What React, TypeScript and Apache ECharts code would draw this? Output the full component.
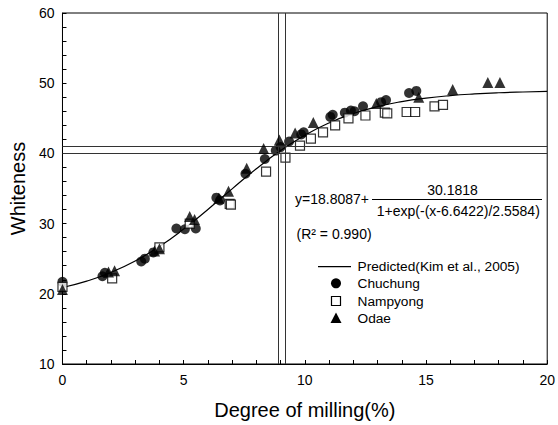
import React, { useEffect, useRef } from "react";
import * as echarts from "echarts";

const FONT = "'Liberation Sans', Arial, sans-serif";

// Predicted curve, x = 0..20
const curveX = [0, 1, 2, 3, 4, 5, 6, 7, 8, 9, 10, 11, 12, 13, 14, 15, 16, 17, 18, 19, 20];
const curveY = [20.9, 21.81, 23.04, 24.67, 26.73, 29.22, 32.02, 34.95, 37.81, 40.4, 42.59, 44.34, 45.68, 46.67, 47.38, 47.88, 48.23, 48.47, 48.64, 48.75, 48.83];

const chuchung: [number, number][] = [
  [0, 21.7], [1.65, 22.5], [1.75, 23.0], [3.25, 24.6], [3.4, 25.0], [3.75, 25.9],
  [4.7, 29.3], [5.05, 29.2], [5.5, 29.3], [6.35, 33.7], [6.5, 33.3], [7.55, 37.1],
  [8.35, 39.2], [8.8, 40.4], [9.0, 40.9], [9.35, 41.7], [9.85, 42.7], [9.95, 43.0],
  [11.05, 45.2], [11.15, 45.5], [11.65, 45.8], [11.9, 46.1], [12.05, 46.0], [12.4, 46.7],
  [13.15, 47.3], [13.35, 47.6], [14.3, 48.6], [14.6, 48.9],
];

const nampyong: [number, number][] = [
  [0, 21.0], [2.05, 22.2], [4.0, 26.6], [5.25, 30.0], [6.9, 32.8], [6.95, 32.7],
  [8.4, 37.4], [9.2, 39.4], [9.8, 41.1], [10.25, 42.1], [10.75, 43.0], [11.25, 44.0],
  [11.8, 45.0], [12.5, 45.4], [13.3, 45.8], [13.4, 45.7], [14.2, 45.9], [14.55, 45.9],
  [15.35, 46.7], [15.7, 46.9],
];

const odae: [number, number][] = [
  [0, 20.6], [1.9, 23.1], [2.15, 23.3], [3.8, 26.1], [4.0, 26.4], [5.25, 31.0],
  [5.45, 30.6], [6.45, 33.6], [6.85, 34.6], [7.6, 37.9], [8.3, 40.7], [8.95, 41.9],
  [9.6, 42.9], [10.35, 44.4], [12.95, 47.1], [14.7, 48.0], [16.1, 49.1], [17.55, 50.1],
  [18.05, 50.1],
];

const refX = [8.9, 9.2];
const refY = [40, 41];

const xTicks = { min: 0, max: 20, interval: 5 };
const yTicks = { min: 10, max: 60, interval: 10 };

export default function App() {
  const ref = useRef<HTMLDivElement>(null);
  useEffect(() => {
    if (!ref.current) return;
    const chart = echarts.init(ref.current, undefined, { renderer: "svg" });
    const axisCommon = {
      axisLine: { show: true, onZero: false, lineStyle: { color: "#000", width: 1 } },
      axisTick: { show: true, inside: true, length: 4, lineStyle: { color: "#000" } },
      minorTick: { show: true, splitNumber: 5, length: 4, lineStyle: { color: "#000" } },
      splitLine: { show: false },
      axisLabel: { color: "#000", fontSize: 14, fontFamily: FONT },
      nameTextStyle: { color: "#000", fontSize: 20, fontFamily: FONT },
    };
    chart.setOption({
      animation: false,
      backgroundColor: "#fff",
      grid: {
        left: 61, right: 8, top: 13, bottom: 59,
        show: true, borderColor: "#000", borderWidth: 1, backgroundColor: "transparent",
      },
      xAxis: {
        type: "value",
        ...xTicks,
        ...axisCommon,
        minorTick: { ...axisCommon.minorTick, splitNumber: 5 },
        axisLabel: { ...axisCommon.axisLabel, margin: 9 },
        name: "Degree of milling(%)",
        nameLocation: "middle",
        nameGap: 36,
      },
      yAxis: {
        type: "value",
        ...yTicks,
        ...axisCommon,
        minorTick: { ...axisCommon.minorTick, splitNumber: 5 },
        axisLabel: { ...axisCommon.axisLabel, margin: 8 },
        name: "Whiteness",
        nameLocation: "middle",
        nameGap: 34,
      },
      series: [
        {
          name: "Predicted(Kim et al., 2005)",
          type: "line",
          data: curveX.map((x, i) => [x, curveY[i]]),
          smooth: true,
          symbol: "none",
          lineStyle: { color: "#000", width: 1.2 },
          z: 2,
          markLine: {
            silent: true,
            symbol: "none",
            label: { show: false },
            lineStyle: { color: "#333", width: 1, type: "solid" },
            data: [
              ...refX.map((v) => ({ xAxis: v })),
              ...refY.map((v) => ({ yAxis: v })),
            ],
          },
        },
        {
          name: "Chuchung",
          type: "scatter",
          data: chuchung,
          symbol: "circle",
          symbolSize: 10,
          itemStyle: { color: "#000" },
          z: 3,
        },
        {
          name: "Nampyong",
          type: "scatter",
          data: nampyong,
          symbol: "rect",
          symbolSize: 9,
          itemStyle: { color: "#fff", borderColor: "#000", borderWidth: 1.2 },
          z: 4,
        },
        {
          name: "Odae",
          type: "scatter",
          data: odae,
          symbol: "triangle",
          symbolSize: 11,
          itemStyle: { color: "#000" },
          z: 5,
        },
      ],
      graphic: [
        {
          type: "text", left: 295, top: 192,
          style: { text: "y=18.8087+", fontSize: 14, fontFamily: FONT, fill: "#000" },
        },
        {
          type: "text", x: 452.5, y: 190,
          style: { text: "30.1818", fontSize: 14, fontFamily: FONT, fill: "#000", align: "center", verticalAlign: "middle" },
        },
        {
          type: "line",
          shape: { x1: 372, y1: 199.5, x2: 542, y2: 199.5 },
          style: { stroke: "#000", lineWidth: 1 },
        },
        {
          type: "text", x: 458.3, y: 211,
          style: { text: "1+exp(-(x-6.6422)/2.5584)", fontSize: 14, fontFamily: FONT, fill: "#000", align: "center", verticalAlign: "middle" },
        },
        {
          type: "text", x: 296.5, y: 233.5,
          style: { text: "(R² = 0.990)", fontSize: 14, fontFamily: FONT, fill: "#000", verticalAlign: "middle" },
        },
        // legend
        {
          type: "line",
          shape: { x1: 318, y1: 266.7, x2: 351, y2: 266.7 },
          style: { stroke: "#000", lineWidth: 1.2 },
        },
        {
          type: "text", x: 357.5, y: 266.7,
          style: { text: "Predicted(Kim et al., 2005)", fontSize: 13.7, fontFamily: FONT, fill: "#000", verticalAlign: "middle" },
        },
        { type: "circle", shape: { cx: 336, cy: 283.3, r: 5 }, style: { fill: "#000" } },
        {
          type: "text", x: 357.5, y: 283.3,
          style: { text: "Chuchung", fontSize: 13.7, fontFamily: FONT, fill: "#000", verticalAlign: "middle" },
        },
        {
          type: "rect", shape: { x: 331.5, y: 296.5, width: 9, height: 9 },
          style: { fill: "#fff", stroke: "#000", lineWidth: 1.2 },
        },
        {
          type: "text", x: 357.5, y: 301,
          style: { text: "Nampyong", fontSize: 13.7, fontFamily: FONT, fill: "#000", verticalAlign: "middle" },
        },
        {
          type: "polygon",
          shape: { points: [[336, 312.5], [341.5, 323], [330.5, 323]] },
          style: { fill: "#000" },
        },
        {
          type: "text", x: 357.5, y: 318.3,
          style: { text: "Odae", fontSize: 13.7, fontFamily: FONT, fill: "#000", verticalAlign: "middle" },
        },
      ],
    });
    return () => chart.dispose();
  }, []);
  return (
    <div
      ref={ref}
      style={{ position: "fixed", left: 0, top: 0, width: 558, height: 425, background: "#fff" }}
    />
  );
}
